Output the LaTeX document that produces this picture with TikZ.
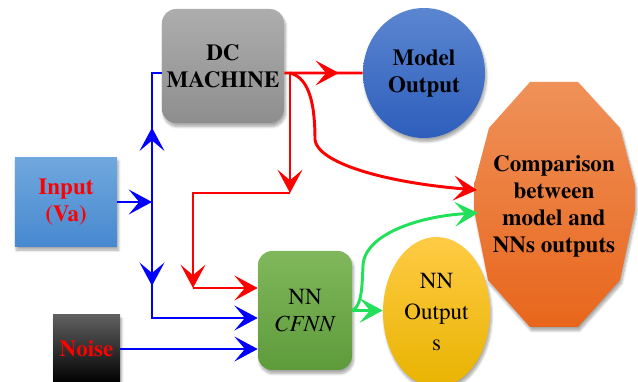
\documentclass[tikz,border=0pt]{standalone}
\usepackage[T1]{fontenc}
\usepackage{times}
\usepackage{xcolor}
\usetikzlibrary{shapes,arrows.meta,positioning,calc,shadows.blur,decorations.markings}

\definecolor{dcTop}{HTML}{ADADAD}
\definecolor{dcBot}{HTML}{8E8E8E}
\definecolor{modelTop}{HTML}{5B86D0}
\definecolor{modelBot}{HTML}{2E5EBC}
\definecolor{cmpTop}{HTML}{EF9159}
\definecolor{cmpBot}{HTML}{E8661C}
\definecolor{inTop}{HTML}{70A8DE}
\definecolor{inBot}{HTML}{4788CF}
\definecolor{noiseTop}{HTML}{606060}
\definecolor{noiseBot}{HTML}{000000}
\definecolor{nnTop}{HTML}{80B75C}
\definecolor{nnBot}{HTML}{5E9B3B}
\definecolor{outTop}{HTML}{FFCB45}
\definecolor{outBot}{HTML}{E8B300}
\definecolor{linkBlue}{HTML}{0000FF}
\definecolor{linkRed}{HTML}{FF0000}
\definecolor{linkGreen}{HTML}{22E05A}

\tikzset{
  >={Stealth[length=0.58cm, width=0.62cm, inset=0.26cm]},
  midarrow/.style={postaction={decorate}, decoration={markings, mark=at position #1 with {\arrow{>}}}}
}

\begin{document}
\begin{tikzpicture}[every node/.style={font=\fontsize{16.4}{19.2}\selectfont}]
  % Styles
  \tikzstyle{softshadow} = [blur shadow={shadow xshift=1pt, shadow yshift=-2.5pt, shadow opacity=35, shadow blur steps=8}]
  \tikzstyle{machine} = [rectangle, rounded corners=10pt, top color=dcTop, bottom color=dcBot, minimum width=3cm, minimum height=2.85cm, align=center, font=\fontsize{16.4}{19.2}\selectfont\bfseries, softshadow]
  \tikzstyle{source} = [rectangle, align=center, text=linkRed, font=\fontsize{16.4}{19.2}\selectfont\bfseries, softshadow]
  \tikzstyle{network} = [rectangle, rounded corners=10pt, top color=nnTop, bottom color=nnBot, minimum width=2.35cm, minimum height=2.975cm, align=center, softshadow]
  \tikzstyle{result} = [ellipse, inner sep=0pt, align=center, softshadow]
  \tikzstyle{cmptext} = [align=center, font=\fontsize{16.4}{19.2}\selectfont\bfseries]
  \tikzstyle{bflow} = [line width=2.1pt, color=linkBlue]
  \tikzstyle{rflow} = [line width=2.1pt, color=linkRed]
  \tikzstyle{gflow} = [line width=2.1pt, color=linkGreen]

  \useasboundingbox (0, 0) rectangle (15.95, 9.55);

  % Comparison block (drawn as a polygon)
  \shade[top color=cmpTop, bottom color=cmpBot, softshadow] (13.25, 7.5) -- (14.45, 7.5) -- (15.5, 6.35) -- (15.875, 4.925) -- (15.875, 4.3)
    -- (15.5, 2.55) -- (14.45, 1.375) -- (13.25, 1.375) -- (12.2, 2.55) -- (11.85, 4.3) -- (11.85, 4.925) -- (12.225, 6.35) -- cycle;
  \node[cmptext] (cmp) at (13.85, 4.4) {Comparison\\between\\model and\\NNs outputs};
  \coordinate (cmpA) at (11.925, 4.8);
  \coordinate (cmpB) at (11.95, 4.225);

  % Blocks
  \node[machine] (dc) at (5.575, 7.9) {DC\\MACHINE};
  \node[result, top color=modelTop, bottom color=modelBot, minimum width=3.05cm, minimum height=3.25cm, font=\fontsize{16.4}{19.2}\selectfont\bfseries] (mo) at (10.6, 7.725) {Model\\Output};
  \node[source, top color=inTop, bottom color=inBot, minimum width=2.55cm, minimum height=2.225cm] (in) at (1.65, 4.5) {Input\\(Va)};
  \node[source, top color=noiseTop, bottom color=noiseBot, minimum width=1.675cm, minimum height=1.7cm] (noise) at (2.1625, 0.825) {Noise};
  \node[network] (nn) at (7.625, 1.7875) {NN\\\textit{CFNN}};
  \node[result, top color=outTop, bottom color=outBot, minimum width=2.675cm, minimum height=3.75cm, font=\fontsize{16.4}{22}\selectfont] (no) at (10.9125, 1.75) {NN\\Output\\s};

  % Split points
  \coordinate (bsplit) at (3.8, 4.5);
  \coordinate (rsplit) at (7.25, 7.725);
  \coordinate (rA) at (7.25, 4.725);
  \coordinate (rB) at (4.825, 2.35);

  % Input and noise lines
  \draw[bflow, ->] (in.east) -- (bsplit);
  \draw[bflow, midarrow=0.536] (bsplit) |- ([yshift=-0.175cm]dc.west);
  \draw[bflow, midarrow=0.378, ->] (bsplit) |- ([yshift=-0.1875cm]nn.west);
  \draw[bflow, ->] (noise.east) -- (noise.east -| nn.west);

  % Machine output lines
  \draw[rflow, midarrow=0.696] ([yshift=-0.175cm]dc.east) -- (mo.west);
  \draw[rflow, ->] (rsplit) -- (rA);
  \draw[rflow, ->] (rA) -| (rB);
  \draw[rflow, ->] (rB) -- (rB -| nn.west);
  \draw[rflow, ->] (rsplit) .. controls (7.75, 7.6) and (7.875, 6.9) .. (7.875, 6.05)
    .. controls (7.95, 5.5) and (9.5, 5.0) .. (cmpA);

  % Network output lines
  \draw[gflow, ->] (nn.east) -- (nn.east -| no.west);
  \draw[gflow, ->] (nn.east) .. controls (9.05, 1.9) and (9.05, 2.4) .. (9.075, 2.9)
    .. controls (9.1, 3.7) and (10.5, 4.15) .. (cmpB);

\end{tikzpicture}
\end{document}
